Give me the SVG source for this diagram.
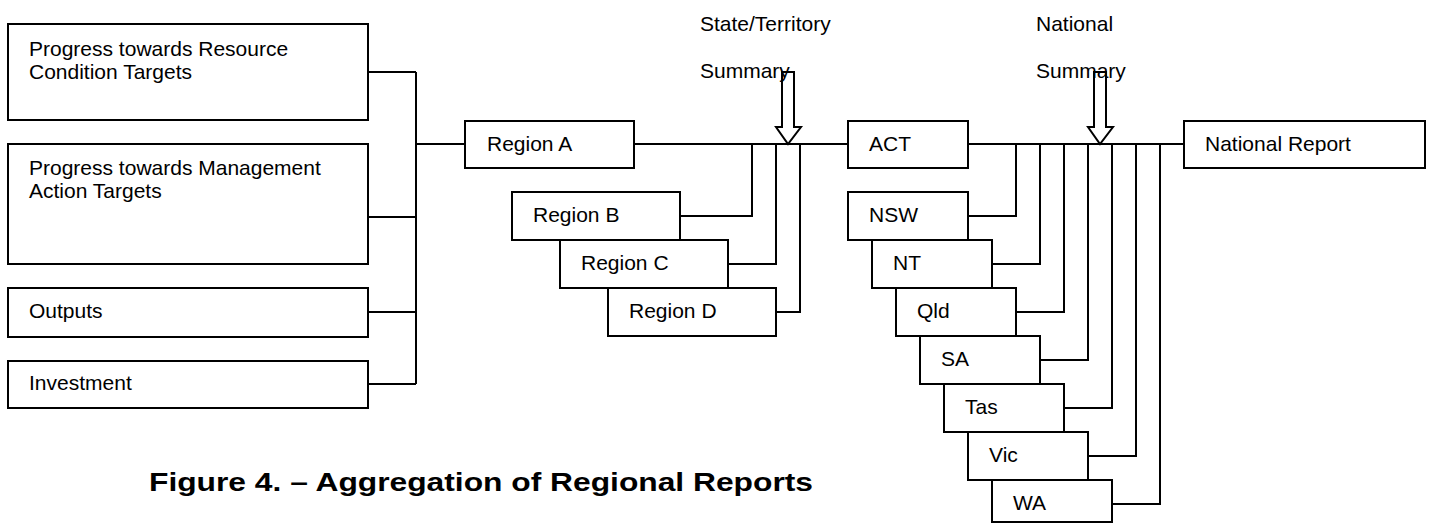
<svg xmlns="http://www.w3.org/2000/svg" width="1429" height="524" viewBox="0 0 1429 524">
<style>
.box{fill:#fff;stroke:#000;stroke-width:2}
.t{font-family:"Liberation Sans",Arial,sans-serif;font-size:21px;fill:#000}
.cap{font-family:"Liberation Sans",Arial,sans-serif;font-size:25px;font-weight:bold;fill:#000}
.ln{fill:none;stroke:#000;stroke-width:2}
.arr{fill:none;stroke:#000;stroke-width:2;stroke-linejoin:miter}
</style>
<rect width="1429" height="524" fill="#fff"/>
<g id="connectors">
<path class="ln" d="M368,72H416M368,217H416M368,312H416M368,384H416M416,72V384M416,144H465"/>
<path class="ln" d="M634,144H848M680,216H752V144M728,264H776V144M776,312H800V144"/>
<path class="ln" d="M968,144H1184M968,216H1016V144M992,264H1040V144M1016,312H1064V144M1040,360H1088V144M1064,408H1112V144M1088,456H1136V144M1112,504H1160V144"/>
</g>
<g id="node-resource"><rect class="box" x="8" y="24" width="360" height="96"/><text class="t" x="29" y="56">Progress towards Resource</text><text class="t" x="29" y="79">Condition Targets</text></g>
<g id="node-management"><rect class="box" x="8" y="144" width="360" height="120"/><text class="t" x="29" y="175">Progress towards Management</text><text class="t" x="29" y="198">Action Targets</text></g>
<g id="node-outputs"><rect class="box" x="8" y="288" width="360" height="49"/><text class="t" x="29" y="318">Outputs</text></g>
<g id="node-investment"><rect class="box" x="8" y="361" width="360" height="47"/><text class="t" x="29" y="390">Investment</text></g>
<g id="node-region-a"><rect class="box" x="465" y="121" width="169" height="47"/><text class="t" x="487" y="151">Region A</text></g>
<g id="node-region-b"><rect class="box" x="512" y="192" width="168" height="48"/><text class="t" x="533" y="222">Region B</text></g>
<g id="node-region-c"><rect class="box" x="560" y="240" width="168" height="48"/><text class="t" x="581" y="270">Region C</text></g>
<g id="node-region-d"><rect class="box" x="608" y="288" width="168" height="48"/><text class="t" x="629" y="318">Region D</text></g>
<g id="node-act"><rect class="box" x="848" y="121" width="120" height="47"/><text class="t" x="869" y="151">ACT</text></g>
<g id="node-nsw"><rect class="box" x="848" y="192" width="120" height="48"/><text class="t" x="869" y="222">NSW</text></g>
<g id="node-nt"><rect class="box" x="872" y="240" width="120" height="48"/><text class="t" x="893" y="270">NT</text></g>
<g id="node-qld"><rect class="box" x="896" y="288" width="120" height="48"/><text class="t" x="917" y="318">Qld</text></g>
<g id="node-sa"><rect class="box" x="920" y="336" width="120" height="48"/><text class="t" x="941" y="366">SA</text></g>
<g id="node-tas"><rect class="box" x="944" y="384" width="120" height="48"/><text class="t" x="965" y="414">Tas</text></g>
<g id="node-vic"><rect class="box" x="968" y="432" width="120" height="48"/><text class="t" x="989" y="462">Vic</text></g>
<g id="node-wa"><rect class="box" x="992" y="480" width="120" height="42"/><text class="t" x="1013" y="510">WA</text></g>
<g id="node-national-report"><rect class="box" x="1184" y="121" width="241" height="47"/><text class="t" x="1205" y="151">National Report</text></g>
<g id="label-state"><text class="t" x="700" y="31">State/Territory</text><text class="t" x="700" y="78">Summary</text>
<polygon class="arr" points="782,72 794,72 794,127 801,127 788,144 776,127 782,127"/></g>
<g id="label-national"><text class="t" x="1036" y="31">National</text><text class="t" x="1036" y="78">Summary</text>
<polygon class="arr" points="1094,72 1106,72 1106,127 1113,127 1100,144 1088,127 1094,127"/></g>
<text class="cap" x="149" y="491" textLength="664" lengthAdjust="spacingAndGlyphs">Figure 4. – Aggregation of Regional Reports</text>
</svg>
